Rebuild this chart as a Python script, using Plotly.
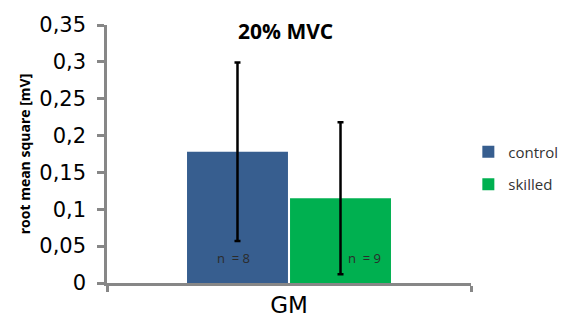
import plotly.graph_objects as go

# data
category = ["GM"]
groups = ["control", "skilled"]
rms_mean = [0.178, 0.115]
rms_sd = [0.121, 0.103]
n_labels = ["n\u00a0\u00a0=\u00a08", "n\u00a0\u00a0=\u00a09"]
bar_colors = ["#375E8F", "#00B050"]
y_ticks = [0, 0.05, 0.1, 0.15, 0.2, 0.25, 0.3, 0.35]
y_tick_text = ["0", "0,05", "0,1", "0,15", "0,2", "0,25", "0,3", "0,35"]

axis_grey = "#878787"

fig = go.Figure()
for i, g in enumerate(groups):
    fig.add_trace(go.Bar(
        x=[0], y=[rms_mean[i]], name=g, offsetgroup=g, legendgroup=g,
        marker=dict(color=bar_colors[i], line=dict(width=0)),
        error_y=dict(type="data", array=[rms_sd[i]], visible=True,
                     color="black", thickness=2.5, width=3),
    ))

# sample-size labels near the bar bases
fig.add_annotation(x=-0.153, y=0.034, xref="x", yref="y", text=n_labels[0],
                   showarrow=False, font=dict(family="Open Sans", size=13, color="#2b2b2b"))
fig.add_annotation(x=0.208, y=0.034, xref="x", yref="y", text=n_labels[1],
                   showarrow=False, font=dict(family="Open Sans", size=13, color="#2b2b2b"))

fig.add_annotation(x=0.49, y=1.0, xref="paper", yref="paper", yanchor="middle",
                   yshift=-6, text="<b>20% MVC</b>", showarrow=False,
                   font=dict(family="Open Sans", size=21, color="black"))

fig.update_layout(
    width=567, height=320,
    margin=dict(l=107, r=96, t=25, b=37, autoexpand=False),
    paper_bgcolor="white", plot_bgcolor="white",
    barmode="group", bargap=0.434, bargroupgap=0.02,
    showlegend=True,
    legend=dict(xref="container", yref="container", x=0.826, y=0.475,
                xanchor="left", yanchor="middle",
                font=dict(family="Open Sans", size=15, color="#333333"),
                tracegroupgap=10, bgcolor="rgba(0,0,0,0)"),
    xaxis=dict(range=[-0.5, 0.5], tickvals=[0], ticktext=category,
               automargin=False,
               showline=True, linecolor=axis_grey, linewidth=2.5,
               ticks="", showgrid=False, zeroline=False,
               tickfont=dict(family="DejaVu Sans", size=23, color="black"),
               minor=dict(tickvals=[-0.5, 0.5], ticks="outside", ticklen=6,
                          tickwidth=2.5, tickcolor=axis_grey)),
    yaxis=dict(range=[0, 0.35], tickvals=y_ticks, ticktext=y_tick_text,
               automargin=False,
               showline=True, linecolor=axis_grey, linewidth=2.5,
               ticks="outside", ticklen=7, tickwidth=2.5, tickcolor=axis_grey,
               ticklabelstandoff=7,
               showgrid=False, zeroline=False,
               tickfont=dict(family="DejaVu Sans", size=21, color="black"),
               title=dict(text="<b>root mean square [mV]</b>", standoff=6,
                          font=dict(family="Open Sans", size=14, color="black"))),
)

fig.write_html("out.html")
